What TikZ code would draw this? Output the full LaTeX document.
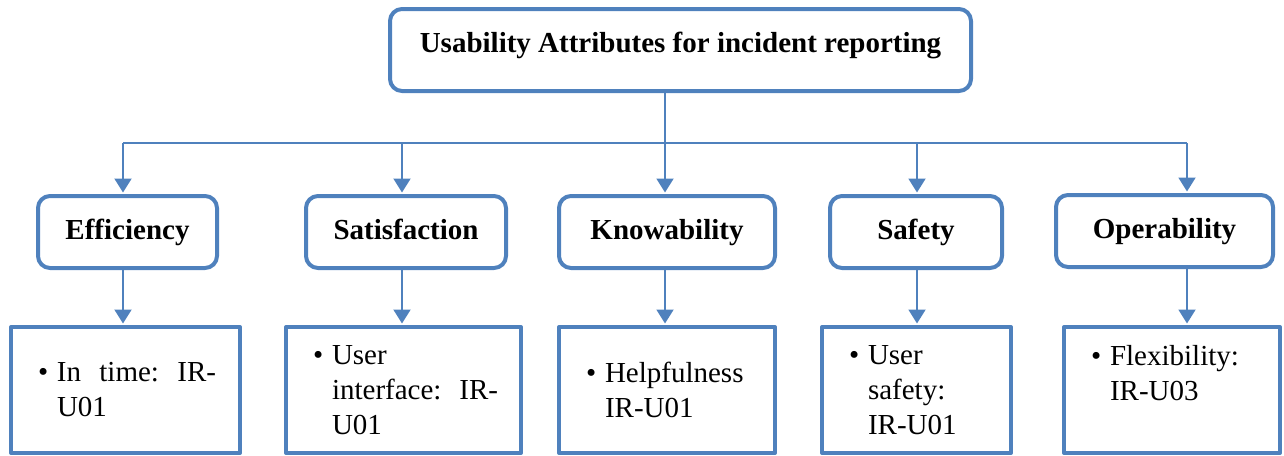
\documentclass[tikz,border=0pt]{standalone}
\usepackage{fontspec}
\setmainfont{Liberation Serif}
\usetikzlibrary{arrows.meta}
\definecolor{attrblue}{RGB}{79,129,189}
\newcommand{\bul}{\makebox[19pt][l]{\textbullet}}
\newcommand{\ind}{\hspace*{19pt}}
\begin{document}
\frenchspacing
\begin{tikzpicture}[x=1pt, y=-1pt, line join=round,
	topbox/.style={draw=attrblue, line width=4pt, rounded corners=12pt, minimum width=581pt, minimum height=82pt, inner sep=0pt,
		font=\bfseries\fontsize{29}{35}\selectfont, text height=20pt, text depth=16pt},
	attrbox/.style={draw=attrblue, line width=4pt, rounded corners=12pt, minimum width=#1, minimum height=72pt, inner sep=0pt,
		font=\bfseries\fontsize{29}{35}\selectfont, text height=20pt, text depth=6pt},
	itembox/.style={draw=attrblue, line width=4pt, text width=#1, minimum height=126pt, inner xsep=27pt, inner ysep=0pt,
		align=left, font=\fontsize{29}{35}\selectfont},
	stem/.style={draw=attrblue, line width=2pt},
	link/.style={stem, -{Triangle[width=17pt,length=14pt]}, shorten >=1.5pt}]
	\useasboundingbox (0,0) rectangle (1284,455);
	% top
	\node[topbox] (top) at (680.5,50) {Usability Attributes for incident reporting};
	% attributes
	\node[attrbox=179pt] (eff) at (127.5,232) {Efficiency};
	\node[attrbox=200pt] (sat) at (406,232) {Satisfaction};
	\node[attrbox=216pt] (know) at (667,232) {Knowability};
	\node[attrbox=172pt] (safe) at (916,232) {Safety};
	\node[attrbox=217pt] (oper) at (1164.5,231) {Operability};
	% requirements
	\node[itembox=175pt] (effitem) at (125.5,390) {\bul\makebox[159pt][l]{In\hfill time:\hfill IR-}\\\ind U01};
	\node[itembox=181pt] (satitem) at (403.5,390) {\bul User\\\ind\makebox[166pt][l]{interface:\hfill IR-}\\\ind U01};
	\node[itembox=162pt] (knowitem) at (667,390) {\bul Helpfulness\\\ind IR-U01};
	\node[itembox=135pt] (safeitem) at (916.5,390) {\bul User\\\ind safety:\\\ind IR-U01};
	\node[itembox=162pt] (operitem) at (1172,390) {\bul Flexibility:\\\ind IR-U03\\~};
	% connectors
	\coordinate (b1) at (123,143);
	\coordinate (b2) at (402,143);
	\coordinate (b3) at (665,143);
	\coordinate (b4) at (917,143);
	\coordinate (b5) at (1187,143);
	\draw[stem] (b3 |- top.south) -- (b3);
	\draw[stem] (b1) -- (b5);
	\foreach \col/\att/\itm in {b1/eff/effitem, b2/sat/satitem, b3/know/knowitem, b4/safe/safeitem, b5/oper/operitem}{
		\draw[link] (\col) -- (\col |- \att.north);
		\draw[link] (\col |- \att.south) -- (\col |- \itm.north);
	}
\end{tikzpicture}
\end{document}
